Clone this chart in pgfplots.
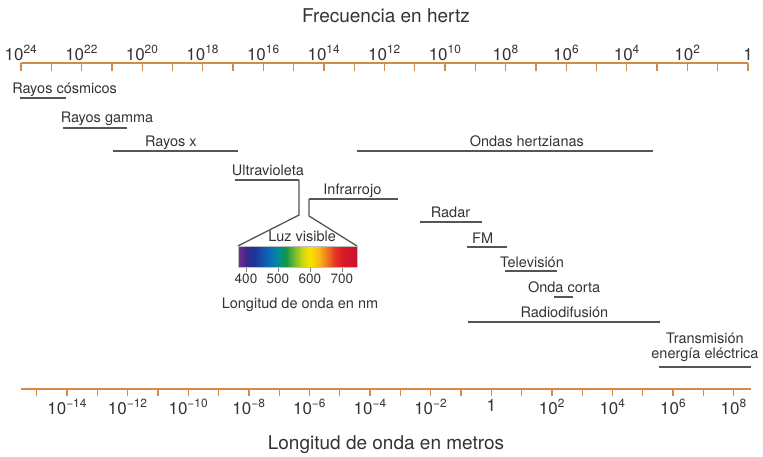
\documentclass[border=0pt]{standalone}
\usepackage{pgfplots}
\pgfplotsset{compat=1.18}
\usepackage{fontspec}
\setmainfont{TeX Gyre Heros}
\definecolor{axorange}{HTML}{D38B45}
\definecolor{txt}{HTML}{333333}
\definecolor{barc}{HTML}{555555}
\tikzset{lab/.style={font=\fontsize{14.5}{16}\selectfont, text=txt, inner sep=0pt, anchor=base}}
\begin{document}
\begin{tikzpicture}
% ---------- top scale: frequency (log10 Hz) ----------
\begin{axis}[
  at={(21pt,394pt)}, anchor=north west,
  scale only axis, width=727pt, height=10pt,
  xmin=0, xmax=24, x dir=reverse, ymin=0, ymax=1,
  axis x line=top, axis y line=none, ytick=\empty,
  axis line style={draw=axorange, line width=1.8pt, -},
  xtick={0,2,...,24}, minor xtick={1,3,...,23},
  xticklabels={1,10\textsuperscript{2},10\textsuperscript{4},10\textsuperscript{6},10\textsuperscript{8},10\textsuperscript{10},10\textsuperscript{12},10\textsuperscript{14},10\textsuperscript{16},10\textsuperscript{18},10\textsuperscript{20},10\textsuperscript{22},10\textsuperscript{24}},
  tick align=inside, major tick length=8pt, minor tick length=8pt,
  tick style={draw=axorange, line width=1.3pt},
  xticklabel style={font=\fontsize{17}{19}\selectfont, text=txt, inner sep=2.5pt},
]
\end{axis}
% ---------- bottom scale: wavelength (log10 m) ----------
\begin{axis}[
  at={(21pt,68pt)}, anchor=south west,
  scale only axis, width=730pt, height=10pt,
  xmin=-15.523, xmax=8.57, ymin=0, ymax=1,
  axis x line=bottom, axis y line=none, ytick=\empty,
  axis line style={draw=axorange, line width=1.8pt, -},
  xtick={-14,-12,...,8}, minor xtick={-15,-13,...,7},
  xticklabels={10\textsuperscript{−14},10\textsuperscript{−12},10\textsuperscript{−10},10\textsuperscript{−8},10\textsuperscript{−6},10\textsuperscript{−4},10\textsuperscript{−2},1,10\textsuperscript{2},10\textsuperscript{4},10\textsuperscript{6},10\textsuperscript{8}},
  tick align=outside, major tick length=7pt, minor tick length=7pt,
  tick style={draw=axorange, line width=1.3pt},
  xticklabel style={font=\fontsize{17}{19}\selectfont, text=txt},
]
\end{axis}
% ---------- main layer: bands (x = log10 f, y = row) ----------
\begin{axis}[
  at={(21pt,0pt)}, anchor=south west,
  scale only axis, width=727pt, height=457pt,
  xmin=0, xmax=24, x dir=reverse,
  ymin=0, ymax=457, y dir=reverse,
  hide axis, clip=false,
]
% bands
\addplot[barc, line width=2pt] coordinates {(24.03,98) (22.51,98)};
\addplot[barc, line width=2pt] coordinates {(22.61,128) (20.50,128)};
\addplot[barc, line width=2pt] coordinates {(20.96,151) (16.84,151)};
\addplot[barc, line width=2pt] coordinates {(12.91,151) (3.13,151)};
\addplot[barc, line width=2pt] coordinates {(16.93,180) (14.82,180)};
\addplot[barc, line width=2pt] coordinates {(14.49,199) (11.55,199)};
\addplot[barc, line width=2pt] coordinates {(10.83,222) (8.78,222)};
\addplot[barc, line width=2pt] coordinates {(9.28,247) (7.96,247)};
\addplot[barc, line width=2pt] coordinates {(8.02,271) (6.30,271)};
\addplot[barc, line width=2pt] coordinates {(6.40,297) (5.78,297)};
\addplot[barc, line width=2pt] coordinates {(9.24,322) (2.90,322)};
\addplot[barc, line width=2pt] coordinates {(2.94,367) (-0.10,367)};
% connectors to visible light
\addplot[barc, line width=1.3pt] coordinates {(14.82,180) (14.82,215) (16.84,246)};
\addplot[barc, line width=1.3pt] coordinates {(14.49,199) (14.49,216) (12.91,246)};
% labels
\node[lab] at (axis cs:22.56,93.5) {Rayos cósmicos};
\node[lab] at (axis cs:21.16,123) {Rayos gamma};
\node[lab] at (axis cs:19.05,147) {Rayos x};
\node[lab] at (axis cs:7.30,147) {Ondas hertzianas};
\node[lab] at (axis cs:15.85,176) {Ultravioleta};
\node[lab] at (axis cs:13.06,195) {Infrarrojo};
\node[lab] at (axis cs:14.72,242) {Luz visible};
\node[lab] at (axis cs:14.79,308) {Longitud de onda en nm};
\node[lab] at (axis cs:9.82,217.5) {Radar};
\node[lab] at (axis cs:8.76,243.5) {FM};
\node[lab] at (axis cs:7.13,267.5) {Televisión};
\node[lab] at (axis cs:6.07,292.5) {Onda corta};
\node[lab] at (axis cs:6.06,317) {Radiodifusión};
\node[lab] at (axis cs:1.42,343) {Transmisión};
\node[lab] at (axis cs:1.42,358) {energía eléctrica};
\node[lab, font=\fontsize{19}{21}\selectfont] at (axis cs:11.95,23) {Frecuencia en hertz};
\node[lab, font=\fontsize{19}{21}\selectfont] at (axis cs:11.95,449) {Longitud de onda en metros};
\end{axis}
% ---------- visible spectrum inset (nm) ----------
\begin{axis}[
  at={(238pt,190pt)}, anchor=south west,
  scale only axis, width=119pt, height=21pt,
  xmin=375, xmax=747, ymin=0, ymax=1, zmin=-1, zmax=1,
  view={0}{90},
  colormap={spectrum}{rgb255=(125,45,140) rgb255=(60,40,140) rgb255=(30,50,150) rgb255=(20,80,170) rgb255=(10,110,185) rgb255=(0,140,150) rgb255=(20,150,70) rgb255=(110,185,50) rgb255=(200,215,20) rgb255=(250,225,0) rgb255=(248,190,20) rgb255=(240,130,30) rgb255=(230,60,35) rgb255=(220,25,40) rgb255=(210,20,45) rgb255=(195,20,50)},
  point meta min=375, point meta max=750,
  xtick={400,500,600,700}, xticklabels={400,500,600,700},
  ytick=\empty, ztick=\empty,
  xtick pos=left, tick align=outside, major tick length=5pt,
  tick style={draw=gray, line width=0.8pt},
  axis line style={draw=gray!50, line width=0.4pt},
  xticklabel style={font=\fontsize{13.5}{15}\selectfont, text=txt, inner sep=2pt},
]
\addplot3[surf, shader=interp, point meta=x] coordinates {
(375,0,0) (747,0,0)

(375,1,0) (747,1,0)
};
\end{axis}
\pgfresetboundingbox
\useasboundingbox (0pt,0pt) rectangle (763pt,457pt);
\end{tikzpicture}
\end{document}
